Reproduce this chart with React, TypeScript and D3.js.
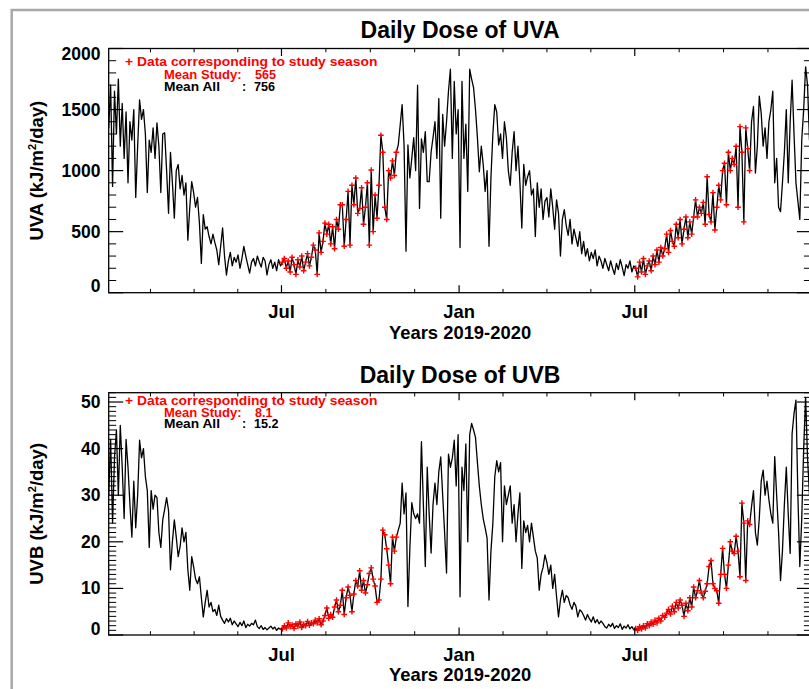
import React from 'react';
import * as d3 from 'd3';

const W = 809;
const H = 689;

// daily dose sampled every second day, first sample 2019-01-03
const START_DATE = Date.UTC(2019, 0, 3);
const STEP_DAYS = 2;

const UVA_2019 = [
  1350, 1700, 870, 1650, 1300, 1750, 1200, 1550, 1100, 1480, 900, 1400, 1250, 1500, 780, // jan
  1200, 1580, 1420, 1500, 1300, 820, 1250, 1150, 1350, 1100, 1390, 1200, 820, 1300, // feb
  1310, 1000, 650, 1150, 900, 610, 1000, 1050, 850, 960, 800, 900, 430, 700, 910, // mar
  820, 700, 780, 570, 240, 640, 520, 540, 460, 400, 480, 410, 350, 230, 380, // apr
  530, 300, 145, 260, 330, 220, 290, 250, 310, 200, 280, 380, 300, 230, 160, 250, // may
  280, 220, 300, 250, 210, 290, 260, 145, 230, 270, 200, 250, 180, 270, 220, // jun
  250, 280, 200, 260, 170, 290, 230, 150, 270, 210, 300, 180, 250, 320, 220, // jul
  290, 390, 350, 150, 490, 330, 420, 570, 480, 560, 400, 540, 360, 600, 520, 720, // aug
  720, 380, 600, 830, 390, 880, 720, 940, 650, 690, 860, 560, 700, 900, 390, // sep
  1005, 500, 800, 610, 880, 1290, 1150, 700, 600, 1000, 940, 1080, 960, 1150, 1210, // oct
  1375, 1540, 1210, 340, 1210, 940, 1100, 1270, 1000, 1700, 690, 1260, 1150, 1320, 910, // nov
  910, 1150, 1270, 1400, 1100, 1590, 610, 1460, 1200, 1400, 1650, 1830, 1100, 1730, 1300, 1500, // dec
];
const UVA_2020 = [
  370, 1730, 1100, 1380, 830, 1830, 1750, 1680, 1500, 1270, 990, 1200, 1050, 830, 1000,
  380, 940, 1300, 1540, 1480, 1210, 1300, 1100, 1400, 1270, 1000, 880, 1150, 1320, 1000,
  1200, 900, 530, 1050, 880, 950, 1000, 800, 850, 460, 900, 700, 850, 600, 750,
  780, 620, 850, 700, 520, 760, 650, 300, 600, 680, 550, 470, 600, 400, 520,
  450, 380, 500, 320, 420, 300, 360, 260, 330, 280, 350, 220, 300, 260, 200, 280,
  230, 180, 260, 200, 150, 240, 190, 270, 210, 140, 230, 200, 260, 170, 220,
  200, 130, 250, 170, 280, 150, 220, 260, 180, 300, 230, 350, 250, 370, 300,
  360, 480, 330, 510, 420, 380, 560, 450, 600, 400, 520, 620, 450, 580, 480, 620,
  760, 620, 700, 650, 740, 560, 950, 640, 580, 820, 514, 700, 880, 760, 1000,
  1060, 720, 1150, 1000, 1100, 1050, 1200, 700, 1360, 1150, 580, 1350, 1180, 1000, 1400,
  1525, 980, 1200, 1610, 1470, 1200, 1350, 1100, 1400, 1500, 1650, 900, 1100, 700, 664,
  900, 1150, 1500, 900, 1400, 1740, 1300, 900, 750, 600, 1250, 1500, 1850, 1700, 1250, 1450,
];

const UVB_2019 = [
  30, 42, 24, 38, 44, 30, 45, 36, 25, 42, 36, 28, 21, 33, 23,
  30, 41.8, 38, 40, 34, 31, 18.8, 31, 27, 30, 29.5, 22, 18.8, 24.7,
  27, 29.5, 26.7, 14, 20, 24.7, 21, 16.8, 19, 23, 20, 22, 14, 9.6, 16.8,
  14.6, 12, 11, 12.5, 8, 3.9, 7, 9.6, 6, 7, 5, 5.5, 4.2, 6.4, 4,
  3.2, 2.5, 3.5, 2.8, 3.6, 2.2, 3, 2.4, 1.8, 2.7, 2, 3, 1.6, 2.3, 1.9, 2.5,
  2.2, 3.2, 1.8, 1.4, 2, 1.2, 1.6, 1.1, 1.5, 1.9, 1.3, 1.7, 1.0, 1.5, 1.2,
  1.3, 2.0, 1.5, 2.6, 1.8, 2.2, 1.4, 2.4, 1.9, 2.8, 1.6, 2.3, 2.0, 2.9, 2.1,
  2.6, 2.4, 3.2, 2.6, 3.5, 2.2, 3.0, 4.2, 5.8, 3.6, 4.4, 3.8, 6.0, 7.5, 5.0, 6.4,
  9.6, 4.4, 8.0, 10.3, 8.5, 5.0, 8.8, 11.7, 10.5, 13.8, 9.6, 11.7, 9.0, 10.8, 13.2,
  14.4, 12, 10.5, 7, 7.5, 12, 22.5, 21.5, 18.5, 15, 11, 21, 18, 21, 22.5,
  24, 32.6, 26, 30.5, 6.1, 18.5, 28.4, 26, 25, 26, 24, 41.5, 28, 14.7, 36,
  26, 17.6, 28, 32.6, 28, 35, 38.2, 30, 22, 13.3, 38.8, 36, 38, 41.8, 32, 43,
];
const UVB_2020 = [
  8.2, 36, 31, 41, 20, 43, 45.4, 44, 42.4, 37, 31.9, 28, 25, 23, 20.8,
  7.5, 18, 24, 34, 37.4, 35, 37, 20, 32, 28, 30, 32, 24, 28, 20,
  26, 30.5, 14.3, 24.5, 22, 23.5, 20, 24, 21, 18, 16.5, 9.6, 13, 14.5, 17.2,
  15.5, 13, 15, 10, 13, 8.2, 3.9, 7.5, 9.6, 7, 8.5, 8, 6.5, 5.5, 7,
  6.2, 3.9, 5.4, 5, 4.2, 3.2, 4.4, 3.5, 2.8, 3.9, 2.6, 3.3, 2.4, 3.0, 2.5, 1.8,
  1.5, 2.3, 1.8, 2.5, 1.4, 2.0, 1.6, 2.4, 1.2, 1.9, 1.5, 2.2, 1.3, 1.8, 1.1,
  1.4, 1.0, 1.8, 1.3, 2.0, 1.5, 2.4, 2.0, 2.8, 2.3, 3.2, 2.6, 3.6, 3.0, 4.2,
  3.8, 4.7, 5.5, 4.5, 6.2, 5.0, 7.0, 5.8, 7.5, 6.4, 4.0, 6.8, 5.2, 8.0, 6.0, 10.3,
  8, 9.5, 11.7, 9, 8, 9.4, 11, 14.7, 16, 11, 10, 9.5, 6.8, 13, 18.6,
  13, 10, 15, 20, 18, 17.5, 21.2, 18, 12.5, 28.3, 24, 11.7, 24.5, 23.7, 27.6,
  31, 22, 19.3, 25, 33, 35.4, 30, 33, 29, 26, 24, 38.3, 30, 22, 11.7,
  18, 28, 36, 26, 17.5, 43.2, 47.5, 50.4, 30, 14.7, 25, 40, 51, 38, 30, 42,
];

const STUDY_SEASONS = [
  ['2019-07-01', '2019-10-28'],
  ['2020-07-01', '2020-10-28'],
];

const X_MAJOR = ['2019-01-01', '2019-07-01', '2020-01-01', '2020-07-01', '2021-01-01'];
const X_LABELS = ['', 'Jul', 'Jan', 'Jul', ''];

const UVA_TICKS = [0, 500, 1000, 1500, 2000];
const UVB_TICKS = [0, 10, 20, 30, 40, 50];

const TITLES = ['Daily Dose of UVA', 'Daily Dose of UVB'];
const Y_NAMES = ['UVA', 'UVB'];
const MEAN_STUDY = ['565', '8.1'];
const MEAN_ALL = ['756', '15.2'];

const FONT = "'Liberation Sans', Arial, Helvetica, sans-serif";
const X0 = 108.7;
const X1 = 811.4;

const x = d3.scaleUtc()
  .domain([new Date(START_DATE), new Date(Date.UTC(2020, 11, 31))])
  .range([X0, X1]);

const parse = d3.utcParse('%Y-%m-%d');
const seasons = STUDY_SEASONS.map(([a, b]) => [parse(a), parse(b)]);
const inSeason = (dt) => seasons.some(([a, b]) => dt >= a && dt <= b);

function Panel({ idx, values, ticks, minorStep, domain, top, bottom, legendY }) {
  const y = d3.scaleLinear().domain(domain).range([bottom, top]);
  const pts = values.map((v, i) => ({ date: d3.utcDay.offset(new Date(START_DATE), i * STEP_DAYS), v }));
  const line = d3.line().x(d => x(d.date)).y(d => y(d.v));
  const red = pts.filter(p => inSeason(p.date));

  // x ticks: majors every half year, 4 sub-intervals between them
  const majX = X_MAJOR.map(s => x(parse(s)));
  const minX = [];
  for (let i = 0; i < majX.length - 1; i++) {
    for (let k = 1; k < 4; k++) minX.push(majX[i] + (k * (majX[i + 1] - majX[i])) / 4);
  }
  const inX = (v) => v >= X0 - 0.5 && v <= X1 + 0.5;
  const yMinor = d3.range(domain[0], domain[1] + 1e-6, minorStep).filter(v => !ticks.includes(v));
  const clipId = 'clip' + idx;
  const midY = (top + bottom) / 2;
  const midX = (X0 + X1) / 2;

  return (
    <g fontFamily={FONT} fontWeight="bold">
      <defs>
        <clipPath id={clipId}>
          <rect x={X0} y={top} width={X1 - X0} height={bottom - top} />
        </clipPath>
      </defs>
      <text x={midX} y={top - 10.2} textAnchor="middle" fontSize={23}>{TITLES[idx]}</text>

      <g clipPath={`url(#${clipId})`}>
        <path d={line(pts)} fill="none" stroke="#000" strokeWidth={1.3} strokeLinejoin="round" />
        {red.map((p, i) => (
          <path key={i} transform={`translate(${x(p.date)},${y(p.v)})`} d="M-2.8,0H2.8M0,-2.8V2.8"
            stroke="#ff0000" strokeWidth={1.4} />
        ))}
      </g>

      <rect x={X0} y={top} width={X1 - X0} height={bottom - top} fill="none" stroke="#000" strokeWidth={1.3} />

      {/* y ticks, both sides, pointing in */}
      {ticks.map(t => (
        <g key={'M' + t}>
          <line x1={X0} x2={X0 + 14.5} y1={y(t)} y2={y(t)} stroke="#000" strokeWidth={1.2} />
          <line x1={X1} x2={X1 - 14.5} y1={y(t)} y2={y(t)} stroke="#000" strokeWidth={1.2} />
          <text x={100.5} y={Math.min(Math.max(y(t) + 6, top + 11.5), bottom - 0.5)} textAnchor="end" fontSize={17.5}>{t}</text>
        </g>
      ))}
      {yMinor.map(t => (
        <g key={'m' + t}>
          <line x1={X0} x2={X0 + 7.5} y1={y(t)} y2={y(t)} stroke="#000" strokeWidth={1} />
          <line x1={X1} x2={X1 - 7.5} y1={y(t)} y2={y(t)} stroke="#000" strokeWidth={1} />
        </g>
      ))}

      {/* x ticks, top and bottom */}
      {majX.map((v, i) => inX(v) && (
        <g key={'X' + i}>
          <line x1={v} x2={v} y1={bottom} y2={bottom - 7.5} stroke="#000" strokeWidth={1.2} />
          <line x1={v} x2={v} y1={top} y2={top + 7.5} stroke="#000" strokeWidth={1.2} />
          {X_LABELS[i] && <text x={v} y={bottom + 25.5} textAnchor="middle" fontSize={18.4}>{X_LABELS[i]}</text>}
        </g>
      ))}
      {minX.filter(inX).map((v, i) => (
        <g key={'x' + i}>
          <line x1={v} x2={v} y1={bottom} y2={bottom - 3.8} stroke="#000" strokeWidth={1} />
          <line x1={v} x2={v} y1={top} y2={top + 3.8} stroke="#000" strokeWidth={1} />
        </g>
      ))}

      <text x={midX} y={bottom + 46} textAnchor="middle" fontSize={18.4}>Years 2019-2020</text>

      <text transform={`translate(42.5,${midY}) rotate(-90)`} textAnchor="middle" fontSize={18.5}>
        {Y_NAMES[idx]} (kJ/m<tspan fontSize={11} dy={-7}>2</tspan><tspan dy={7}>/day)</tspan>
      </text>

      {/* legend: narrow glyphs stretched to the reference widths */}
      <g fontSize={12.6}>
        <text x={125} y={legendY[0]} fill="#ff0000" textLength={252.5} lengthAdjust="spacingAndGlyphs">
          + Data corresponding to study season
        </text>
        <text x={164} y={legendY[1]} fill="#ff0000" textLength={77.5} lengthAdjust="spacingAndGlyphs">Mean Study:</text>
        <text x={255} y={legendY[1]} fill="#ff0000">{MEAN_STUDY[idx]}</text>
        <text x={164} y={legendY[2]} fill="#000" textLength={56} lengthAdjust="spacingAndGlyphs">Mean All</text>
        <text x={242} y={legendY[2]} fill="#000">:</text>
        <text x={254} y={legendY[2]} fill="#000">{MEAN_ALL[idx]}</text>
      </g>
    </g>
  );
}

export default function App() {
  return (
    <svg width={W} height={H} viewBox={`0 0 ${W} ${H}`}
      style={{ position: 'absolute', left: 0, top: 0, background: '#fff' }}>
      <rect x={0} y={0} width={W} height={H} fill="#fff" />
      <rect x={11.7} y={10} width={W + 50} height={H + 50} fill="none" stroke="#a8a8a8" strokeWidth={2.5} />
      <Panel idx={0} values={UVA_2019.concat(UVA_2020)} ticks={UVA_TICKS} minorStep={100}
        domain={[0, 2000]} top={48.5} bottom={292.7} legendY={[66, 79.3, 90.7]} />
      <Panel idx={1} values={UVB_2019.concat(UVB_2020)} ticks={UVB_TICKS} minorStep={1}
        domain={[0, 52]} top={392.7} bottom={635} legendY={[405, 417.3, 428.3]} />
    </svg>
  );
}
